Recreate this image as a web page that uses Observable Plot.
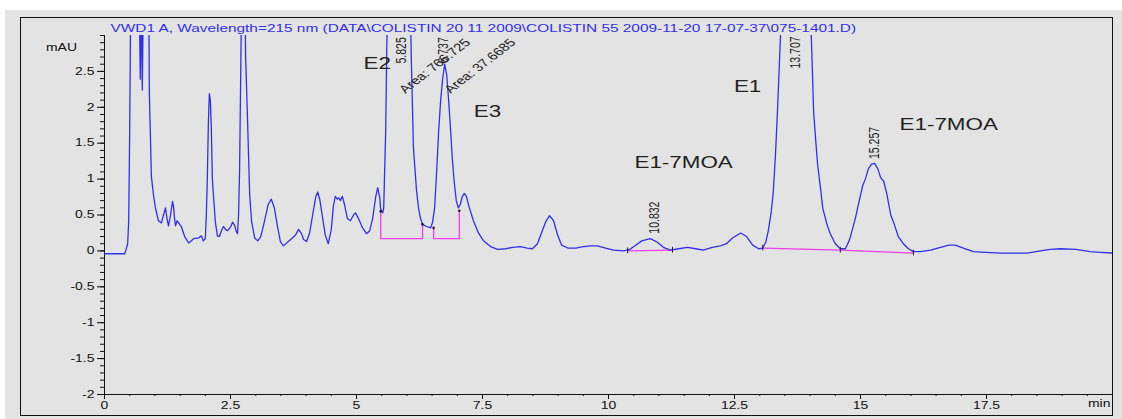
<!DOCTYPE html>
<html><head><meta charset="utf-8">
<script src="https://cdn.jsdelivr.net/npm/d3@7"></script>
<script src="https://cdn.jsdelivr.net/npm/@observablehq/plot@0.6"></script>
<style>
body{margin:0;background:#fff;}
#chart svg{display:block;}
</style></head><body><div id="chart"></div>
<script>
// Chromatogram trace: retention time (min) and absorbance (mAU); values > 3 are off-scale (clipped)
const times = [0,0.40,0.42,0.46,0.48,0.50,0.52,0.60,0.69,0.71,0.73,0.75,0.77,0.83,0.88,0.89,0.93,0.97,1.01,1.07,1.13,1.17,1.21,1.24,1.27,1.31,1.35,1.37,1.39,1.41,1.44,1.47,1.53,1.59,1.67,1.77,1.87,1.92,1.96,2.00,2.02,2.04,2.06,2.08,2.10,2.12,2.14,2.16,2.20,2.24,2.28,2.32,2.36,2.40,2.44,2.50,2.54,2.58,2.62,2.64,2.66,2.68,2.70,2.72,2.76,2.79,2.80,2.84,2.88,2.92,2.98,3.04,3.10,3.17,3.25,3.31,3.37,3.43,3.49,3.55,3.63,3.71,3.79,3.85,3.91,3.95,4.01,4.07,4.13,4.19,4.23,4.27,4.33,4.38,4.44,4.50,4.54,4.58,4.62,4.65,4.68,4.72,4.76,4.82,4.88,4.94,4.98,5.04,5.12,5.20,5.26,5.32,5.38,5.42,5.46,5.48,5.52,5.54,5.58,5.60,5.62,5.71,5.79,5.87,5.99,6.07,6.09,6.13,6.19,6.23,6.27,6.31,6.39,6.47,6.51,6.55,6.59,6.63,6.67,6.71,6.75,6.79,6.83,6.87,6.90,6.94,6.98,7.02,7.06,7.10,7.14,7.18,7.24,7.32,7.42,7.52,7.66,7.80,7.96,8.10,8.25,8.39,8.49,8.59,8.67,8.75,8.83,8.91,8.99,9.07,9.19,9.35,9.50,9.64,9.78,9.94,10.10,10.30,10.42,10.54,10.66,10.83,10.97,11.09,11.23,11.39,11.57,11.73,11.88,12.06,12.22,12.34,12.46,12.62,12.74,12.86,12.98,13.06,13.12,13.17,13.23,13.27,13.31,13.35,13.39,13.43,13.61,13.73,13.87,14.01,14.05,14.07,14.11,14.15,14.21,14.25,14.33,14.40,14.50,14.60,14.70,14.78,14.84,14.90,14.96,15.04,15.10,15.16,15.22,15.28,15.34,15.40,15.46,15.52,15.60,15.67,15.75,15.85,15.95,16.05,16.19,16.39,16.59,16.75,16.88,17.04,17.24,17.48,17.78,18.08,18.31,18.57,18.77,18.97,19.27,19.56,19.76,20];
const mAU = [-0.04,-0.04,0.0,0.1,0.42,1.67,3.5,4,3.5,2.39,3.5,2.24,3.5,4,3.3,2.19,1.04,0.79,0.6,0.42,0.39,0.5,0.6,0.45,0.35,0.5,0.69,0.62,0.45,0.35,0.42,0.39,0.33,0.2,0.11,0.17,0.18,0.21,0.14,0.17,0.5,1.0,1.75,2.19,2.1,1.7,1.0,0.79,0.4,0.21,0.2,0.28,0.34,0.3,0.28,0.33,0.4,0.36,0.26,0.24,0.5,1.11,2.3,3.5,4,3.3,2.7,1.78,0.79,0.4,0.18,0.14,0.2,0.4,0.65,0.72,0.6,0.35,0.13,0.07,0.12,0.17,0.22,0.3,0.24,0.16,0.13,0.25,0.5,0.75,0.82,0.72,0.45,0.22,0.1,0.3,0.62,0.76,0.72,0.74,0.7,0.76,0.65,0.45,0.42,0.5,0.53,0.45,0.32,0.24,0.28,0.45,0.75,0.88,0.75,0.58,0.53,0.6,1.7,2.8,3.5,6,8,7,5,3.3,2.6,1.43,0.85,0.6,0.45,0.37,0.34,0.32,0.4,0.6,1.1,1.67,2.1,2.4,2.6,2.45,2.08,1.65,1.29,0.95,0.7,0.6,0.65,0.76,0.8,0.76,0.6,0.42,0.25,0.14,0.06,0.02,0.03,0.05,0.06,0.04,0.03,0.1,0.25,0.4,0.49,0.42,0.22,0.08,0.04,0.04,0.06,0.07,0.07,0.04,0.01,0.0,0.02,0.08,0.14,0.17,0.12,0.05,0.01,0.03,0.05,0.03,0.01,0.05,0.07,0.1,0.18,0.25,0.2,0.08,0.03,0.04,0.12,0.28,0.55,0.83,1.3,1.9,2.6,3.3,6,7,6,3.3,2.4,1.94,1.55,1.2,0.85,0.6,0.38,0.24,0.1,0.03,0.03,0.15,0.3,0.46,0.65,0.9,1.01,1.15,1.21,1.22,1.15,1.02,0.97,0.8,0.5,0.37,0.2,0.1,0.03,-0.01,-0.01,0.01,0.05,0.08,0.08,0.04,-0.01,-0.02,-0.03,-0.03,-0.03,0.0,0.02,0.03,0.02,-0.01,-0.02,-0.03];

// Integration baselines (magenta)
const baseSeg = [1,1,1,1, 2,2,2,2, 3,3, 4,4,4];
const baseT   = [5.48,5.48,6.31,6.31, 6.53,6.53,7.04,7.04, 10.38,11.27, 13.06,14.60,16.05];
const baseV   = [0.58,0.17,0.17,0.37, 0.32,0.17,0.17,0.56, 0.00,0.01, 0.04,0.01,-0.03];

// Peak start/end event marks
const eventT = [5.48,6.31,6.53,7.04,10.38,11.27,13.06,14.60,16.05];
const eventV = [0.55,0.37,0.32,0.56,0.00,0.01,0.04,0.01,-0.03];

// Retention-time labels
const rtText = ["5.825","6.737","10.832","13.707","15.257"];
const rtT    = [5.89,6.73,10.91,13.71,15.28];
const rtV    = [2.61,2.61,0.24,2.54,1.28];

// Area labels
const areaText = ["Area: 766.725","Area: 37.6685"];
const areaT    = [5.97,6.87];
const areaV    = [2.19,2.19];

// Compound names
const nameText = ["E2","E3","E1-7MOA","E1","E1-7MOA"];
const nameT    = [5.41,7.6,11.49,12.76,16.75];
const nameV    = [2.61,1.93,1.22,2.29,1.76];

const yMajor = [-2,-1.5,-1,-0.5,0,0.5,1,1.5,2,2.5];
const yMinor = d3.range(-20,31).map(d => d/10);
const xMajor = [0,2.5,5,7.5,10,12.5,15,17.5];
const xMinor = d3.range(0,40).map(d => d/2);

const titleText = "VWD1 A, Wavelength=215 nm (DATA\\COLISTIN 20 11 2009\\COLISTIN 55 2009-11-20 17-07-37\\075-1401.D)";

const trace = times.map((t,i) => ({t, v: mAU[i]}));
const base = baseT.map((t,i) => ({t, v: baseV[i], s: baseSeg[i]}));
const events = eventT.map((t,i) => ({t, v: eventV[i]}));
const rts = rtText.map((s,i) => ({s, t: rtT[i], v: rtV[i]}));
const areas = areaText.map((s,i) => ({s, t: areaT[i], v: areaV[i]}));
const names = nameText.map((s,i) => ({s, t: nameT[i], v: nameV[i]}));

const FONT = "'Liberation Sans', Arial, sans-serif";
const BLUE = "#3030ec";

const svg = Plot.plot({
  width: 1122, height: 419,
  marginLeft: 104, marginRight: 10, marginTop: 35, marginBottom: 25,
  style: {background: "#e3e3e3", boxShadow: "inset 5px 10px 0 #ffffff", fontFamily: FONT, color: "#111"},
  x: {domain: [0, 20]},
  y: {domain: [-2, 3]},
  marks: [
    Plot.frame({stroke: "#111", insetLeft: -84, insetTop: -18, insetBottom: -21}),
    Plot.axisY({ticks: yMinor, tickSize: 4, tickFormat: () => "", label: null}),
    Plot.axisY({ticks: yMajor, tickSize: 7, tickPadding: 3, fontSize: 10, label: null, tickFormat: d => String(d)}),
    Plot.axisX({ticks: xMinor, tickSize: 2, tickFormat: () => "", label: null}),
    Plot.axisX({ticks: xMajor, tickSize: 5, tickPadding: 2, fontSize: 10, label: null, tickFormat: d => String(d)}),
    Plot.ruleX([0], {stroke: "#111"}),
    Plot.ruleY([-2], {stroke: "#111"}),
    Plot.text(["mAU"], {frameAnchor: "top-left", dx: -43, dy: 8, fontSize: 10, textAnchor: "middle"}),
    Plot.text(["min"], {frameAnchor: "bottom-right", dx: -2, dy: 12, fontSize: 10, textAnchor: "end"}),
    Plot.text([titleText], {frameAnchor: "top-left", dx: 6, dy: -11, fontSize: 11, textAnchor: "start", fill: BLUE}),
    Plot.line(base, {x: "t", y: "v", z: "s", stroke: "#f03cf0", strokeWidth: 1.3}),
    Plot.line(trace, {x: "t", y: "v", stroke: BLUE, strokeWidth: 1.3, clip: true}),
    Plot.dot(events.slice(0,4), {x: "t", y: "v", r: 1.3, fill: "#222"}),
    Plot.ruleX(events.slice(4), {x: "t", y1: d => d.v - 0.04, y2: d => d.v + 0.04, stroke: "#222"}),
    Plot.text(rts, {x: "t", y: "v", text: "s", rotate: -90, textAnchor: "start", lineAnchor: "middle", fontSize: 10.5, fill: "#222"}),
    Plot.text(areas, {x: "t", y: "v", text: "s", rotate: -47, textAnchor: "start", lineAnchor: "bottom", fontSize: 11, fill: "#222"}),
    Plot.text(names, {x: "t", y: "v", text: "s", fontSize: 16, fill: "#222"})
  ]
});

// the reference picture is horizontally stretched: widen glyphs about their anchors
const SX = 1.4;
svg.querySelectorAll("text").forEach(t => {
  const tr = t.getAttribute("transform");
  if (tr && /^translate/.test(tr)) {
    t.setAttribute("transform", tr.replace(/^(translate\([^)]*\))/, `$1 scale(${SX},1)`));
  } else {
    const x = +(t.getAttribute("x") || 0), y = +(t.getAttribute("y") || 0);
    t.setAttribute("transform", `translate(${x},${y}) scale(${SX},1) translate(${-x},${-y})${tr ? " " + tr : ""}`);
  }
});
document.getElementById("chart").appendChild(svg);
</script>
</body></html>
